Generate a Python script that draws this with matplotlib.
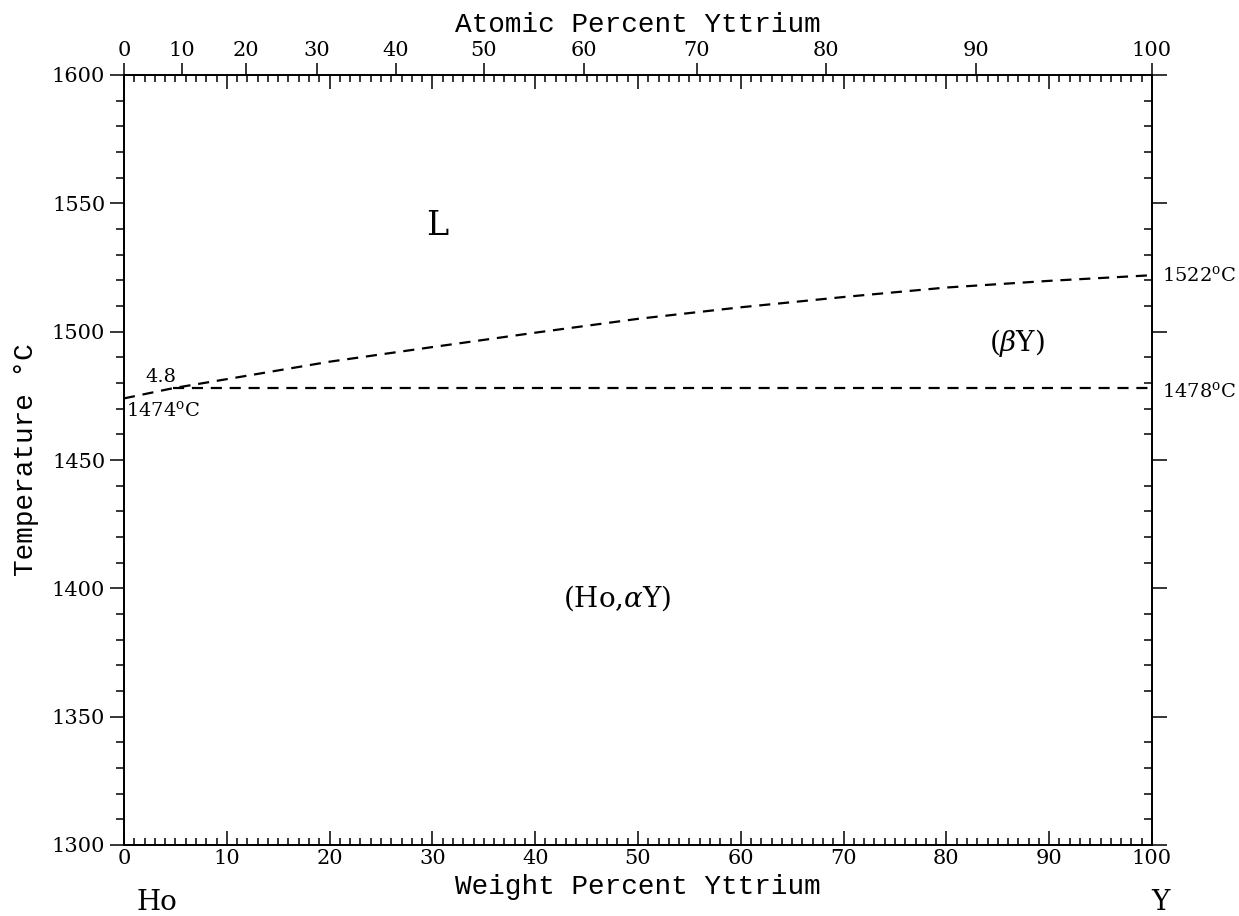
import numpy as np
import matplotlib
matplotlib.use("Agg")
from matplotlib import pyplot as plt
from matplotlib.ticker import MultipleLocator, NullLocator

plt.rcParams["font.family"] = "DejaVu Serif"
plt.rcParams["mathtext.fontset"] = "dejavuserif"

# liquidus (wt% Y, deg C)
liq_wt = [0, 4.8, 10, 20, 30, 40, 50, 60, 70, 80, 90, 100]
liq_t = [1474, 1478, 1481.5, 1488.3, 1494.0, 1499.6, 1505.0, 1509.5, 1513.5, 1517.2, 1519.8, 1522]
# horizontal line at 1478
sol_wt = [4.8, 100]
sol_t = [1478, 1478]

at_ticks = [0, 10, 20, 30, 40, 50, 60, 70, 80, 90, 100]

M_HO = 164.93
M_Y = 88.906


def at2wt(a):
    a = np.asarray(a, dtype=float)
    my = a * M_Y
    mho = (100 - a) * M_HO
    return 100 * my / (my + mho)


fig = plt.figure(figsize=(12.39, 9.16), dpi=100)
ax = fig.add_axes([124 / 1239, 71 / 916, 1028 / 1239, 770 / 916])

ax.plot(liq_wt, liq_t, color="black", lw=1.6, dashes=(5, 3.5))
ax.plot(sol_wt, sol_t, color="black", lw=1.6, dashes=(5, 3.5))

ax.set_xlim(0, 100)
ax.set_ylim(1300, 1600)

# right side: major ticks out, minor ticks in
rax = ax.twinx()
rax.set_ylim(ax.get_ylim())
rax.yaxis.set_major_locator(MultipleLocator(50))
rax.yaxis.set_minor_locator(MultipleLocator(10))
rax.tick_params(axis="y", which="major", direction="out", length=11, width=1.1, labelright=False)
rax.tick_params(axis="y", which="minor", direction="in", length=6, width=1.1)

# top axis in atomic percent
tax = ax.twiny()
tax.set_xlim(ax.get_xlim())
tax.set_xticks(at2wt(at_ticks))
tax.set_xticklabels([str(a) for a in at_ticks])
tax.xaxis.set_minor_locator(NullLocator())
tax.tick_params(axis="x", which="major", direction="out", length=9, width=1.1,
                labelsize=15, pad=2)
tax.set_xlabel("Atomic Percent Yttrium", fontsize=20, family="Liberation Mono", labelpad=6)

ax.xaxis.set_major_locator(MultipleLocator(10))
ax.xaxis.set_minor_locator(MultipleLocator(1))
ax.yaxis.set_major_locator(MultipleLocator(50))
ax.yaxis.set_minor_locator(MultipleLocator(10))
ax.tick_params(axis="x", which="both", direction="in", top=True, bottom=True,
               labeltop=False, labelbottom=True, labelsize=15, width=1.1)
ax.tick_params(axis="x", which="major", length=10, pad=3)
ax.tick_params(axis="x", which="minor", length=5)
ax.tick_params(axis="y", which="both", direction="out", left=True, right=False,
               labelsize=15, width=1.1)
ax.tick_params(axis="y", which="major", length=10)
ax.tick_params(axis="y", which="minor", length=6)
for a in (ax, rax, tax):
    for s in a.spines.values():
        s.set_linewidth(1.1)

ax.set_xlabel("Weight Percent Yttrium", fontsize=20, family="Liberation Mono", labelpad=4)
ax.set_ylabel("Temperature \u00b0C", fontsize=20, family="Liberation Mono", labelpad=9)

ax.text(3.2, -0.075, "Ho", transform=ax.get_xaxis_transform(), fontsize=20,
        ha="center", va="center")
ax.text(100.8, -0.075, "Y", transform=ax.get_xaxis_transform(), fontsize=20,
        ha="center", va="center")

ax.text(30.5, 1541, "L", fontsize=24, ha="center", va="center")
ax.text(48, 1396, r"(Ho,$\alpha$Y)", fontsize=20, ha="center", va="center")
ax.text(86.9, 1495.5, r"($\beta$Y)", fontsize=20, ha="center", va="center")
ax.text(3.6, 1482.5, "4.8", fontsize=14, ha="center", va="center")
ax.text(0.2, 1469.5, r"1474$^{\mathrm{o}}$C", fontsize=14, ha="left", va="center")
ax.text(101.0, 1522, r"1522$^{\mathrm{o}}$C", fontsize=14, ha="left", va="center",
        clip_on=False)
ax.text(101.0, 1477, r"1478$^{\mathrm{o}}$C", fontsize=14, ha="left", va="center",
        clip_on=False)

fig.savefig("out.png", dpi=100)
